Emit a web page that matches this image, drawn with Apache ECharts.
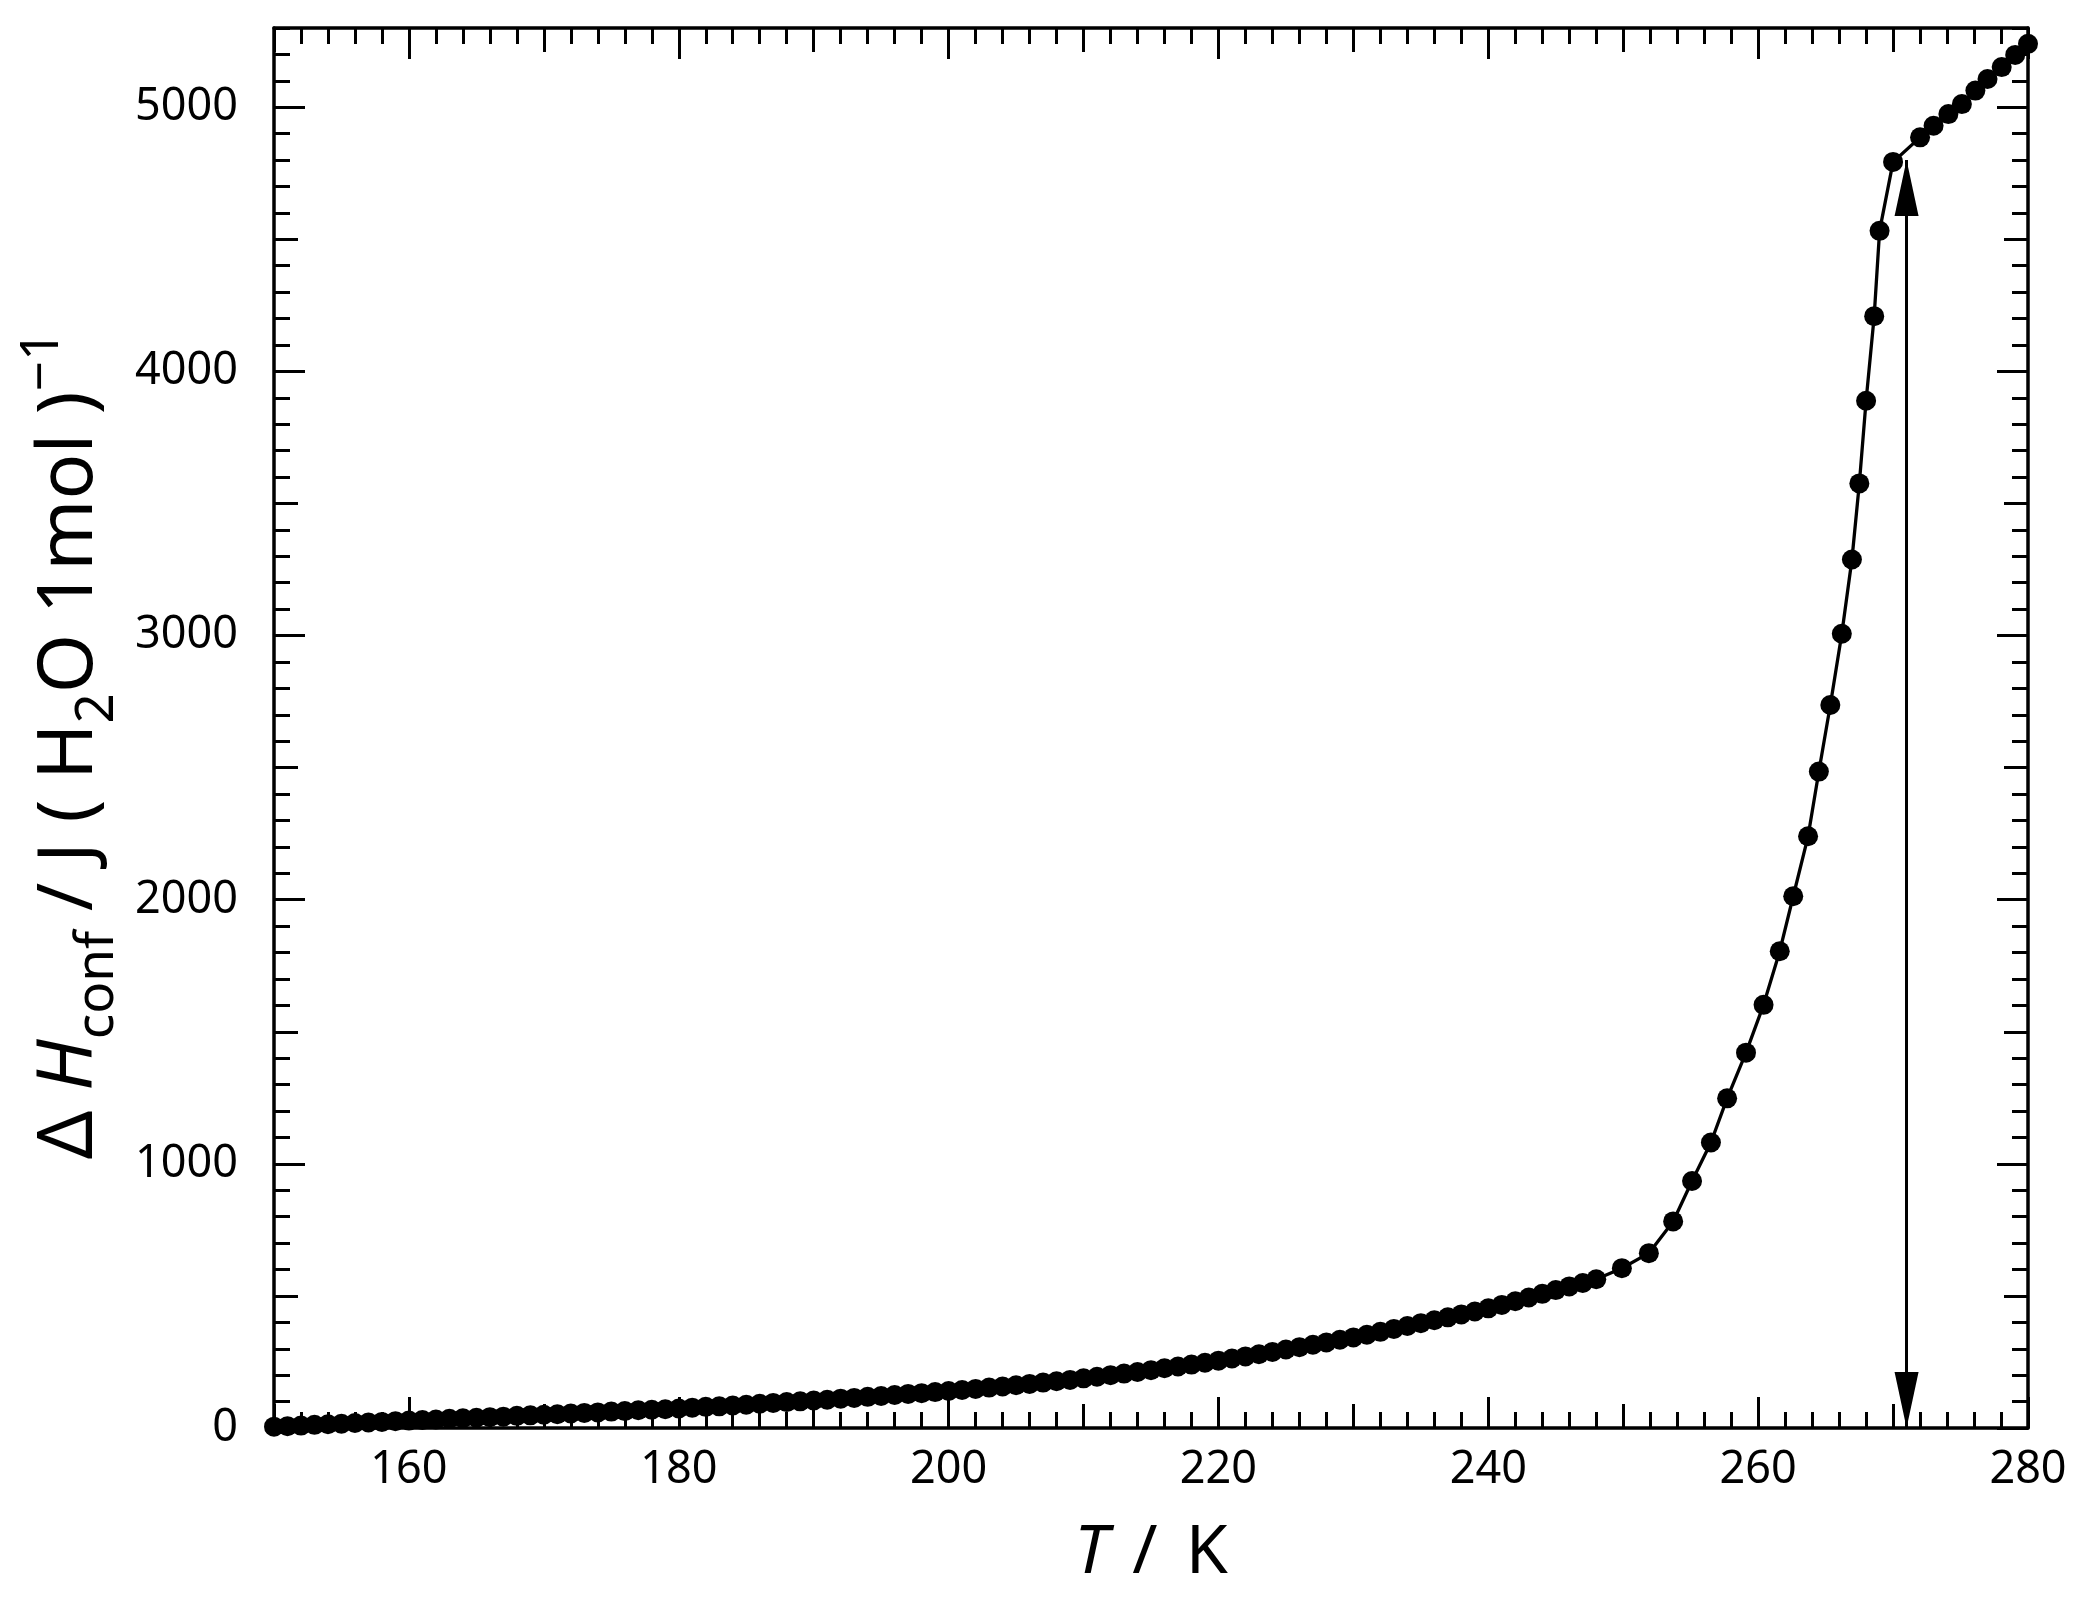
<!DOCTYPE html>
<html>
<head>
<meta charset="utf-8">
<title>dH conf vs T</title>
<script src="https://cdn.jsdelivr.net/npm/echarts@6.0.0/dist/echarts.min.js"></script>
<style>
  html, body { margin: 0; padding: 0; background: #fff; }
  #myChart { width: 2097px; height: 1601px; }
</style>
</head>
<body>
<div id="myChart"></div>
<script>
  // T / K
  var temps = [
    150, 151, 152, 153, 154, 155, 156, 157, 158, 159,
    160, 161, 162, 163, 164, 165, 166, 167, 168, 169,
    170, 171, 172, 173, 174, 175, 176, 177, 178, 179,
    180, 181, 182, 183, 184, 185, 186, 187, 188, 189,
    190, 191, 192, 193, 194, 195, 196, 197, 198, 199,
    200, 201, 202, 203, 204, 205, 206, 207, 208, 209,
    210, 211, 212, 213, 214, 215, 216, 217, 218, 219,
    220, 221, 222, 223, 224, 225, 226, 227, 228, 229,
    230, 231, 232, 233, 234, 235, 236, 237, 238, 239,
    240, 241, 242, 243, 244, 245, 246, 247, 248,
    249.9, 251.9, 253.7, 255.1, 256.5, 257.7, 259.1, 260.4, 261.6, 262.6,
    263.7, 264.5, 265.35, 266.2, 266.95, 267.5, 268.0, 268.6, 269.0, 270.0,
    272.0, 273.0, 274.1, 275.1, 276.1, 277.0, 278.05, 279.05, 280.0
  ]
  // dH_conf / J (H2O 1mol)^-1
  var enthalpy = [
    5, 7, 9, 12, 14, 16, 19, 21, 23, 26,
    28, 30, 32, 35, 37, 39, 41, 43, 46, 48,
    50, 52, 55, 57, 59, 62, 64, 67, 69, 71,
    74, 77, 80, 82, 85, 88, 92, 95, 98, 101,
    104, 107, 111, 114, 118, 121, 125, 129, 132, 136,
    140, 144, 148, 153, 157, 162, 167, 172, 177, 182,
    188, 194, 200, 206, 212, 219, 226, 233, 240, 247,
    255, 263, 271, 279, 288, 297, 306, 315, 324, 334,
    343, 353, 364, 375, 386, 397, 408, 419, 430, 441,
    453, 466, 480, 494, 508, 522, 536, 549, 563,
    605, 662, 782, 935, 1081, 1248, 1421, 1602, 1805, 2013,
    2240, 2485, 2737, 3007, 3288, 3576, 3889, 4209, 4532, 4793,
    4886, 4930, 4974, 5012, 5063, 5107, 5152, 5198, 5240
  ]
  // double arrow at the transition
  var arrowT = 271
  var arrowRange = [0, 4800]

  var xRange = [150, 280]
  var yRange = [0, 5300]
  var xLabelValues = [160, 180, 200, 220, 240, 260, 280]
  var yLabelValues = [0, 1000, 2000, 3000, 4000, 5000]

  function steps (from, to, step) {
    var out = []
    for (var v = from; v <= to + 1e-9; v += step) {
      out.push(Math.round(v * 1000) / 1000)
    }
    return out
  }

  var xMinor = steps(150, 280, 2)
  var xMedium = steps(150, 280, 10)
  var yMinor = steps(0, 5300, 100)
  var yMedium = steps(0, 5300, 500)

  var FONT = '"Noto Sans", "DejaVu Sans", sans-serif'
  var AXIS_W = 3.5
  var TICK_W = 3

  function makeAxis (dim, position, ticks, len, withLabel, withLine) {
    var range = dim === 'x' ? xRange : yRange
    return {
      type: 'value',
      position: position,
      min: range[0],
      max: range[1],
      axisLine: { show: withLine, onZero: false, lineStyle: { color: '#000', width: AXIS_W } },
      axisTick: {
        show: true,
        inside: true,
        length: len,
        customValues: ticks,
        lineStyle: { color: '#000', width: TICK_W }
      },
      minorTick: { show: false },
      splitLine: { show: false },
      axisLabel: {
        show: withLabel,
        customValues: dim === 'x' ? xLabelValues : yLabelValues,
        formatter: function (v) { return String(v) },
        color: '#000',
        fontFamily: FONT,
        fontSize: 45,
        margin: dim === 'x' ? 20 : 36
      }
    }
  }

  var xAxes = [
    makeAxis('x', 'bottom', xLabelValues, 31, true, true),
    makeAxis('x', 'bottom', xMedium, 24, false, false),
    makeAxis('x', 'bottom', xMinor, 16, false, false),
    makeAxis('x', 'top', xLabelValues, 31, false, true),
    makeAxis('x', 'top', xMedium, 24, false, false),
    makeAxis('x', 'top', xMinor, 16, false, false)
  ]
  var yAxes = [
    makeAxis('y', 'left', yLabelValues, 31, true, true),
    makeAxis('y', 'left', yMedium, 24, false, false),
    makeAxis('y', 'left', yMinor, 16, false, false),
    makeAxis('y', 'right', yLabelValues, 31, false, true),
    makeAxis('y', 'right', yMedium, 24, false, false),
    makeAxis('y', 'right', yMinor, 16, false, false)
  ]

  xAxes[0].name = '{i|T}{sl|/}{n|K}'
  xAxes[0].nameLocation = 'middle'
  xAxes[0].nameGap = 86
  xAxes[0].nameTextStyle = {
    rich: {
      n: { fontFamily: FONT, fontSize: 68, color: '#000', lineHeight: 80 },
      sl: { fontFamily: FONT, fontSize: 68, color: '#000', lineHeight: 80, padding: [0, 28, 0, 24] },
      i: { fontFamily: FONT, fontSize: 68, fontStyle: 'italic', color: '#000', lineHeight: 80 }
    }
  }

  yAxes[0].name = '{n|Δ }{i|H}{sub|conf}{n| / J ( H}{sub|2}{n|O 1mol )}{sup|−1}'
  yAxes[0].nameLocation = 'middle'
  yAxes[0].nameRotate = 90
  yAxes[0].nameGap = 150
  yAxes[0].nameTextStyle = {
    rich: {
      n: { fontFamily: FONT, fontSize: 76, color: '#000', lineHeight: 108 },
      i: { fontFamily: FONT, fontSize: 76, fontStyle: 'italic', color: '#000', lineHeight: 108 },
      sub: { fontFamily: FONT, fontSize: 53, color: '#000', lineHeight: 48, verticalAlign: 'bottom' },
      sup: { fontFamily: FONT, fontSize: 53, color: '#000', lineHeight: 50, verticalAlign: 'top', padding: [0, 34, 0, 0] }
    }
  }

  var points = temps.map(function (t, i) { return [t, enthalpy[i]] })

  var arrowHead = { symbolSize: [24, 56], symbolOffset: [0, 28] }

  var option = {
    animation: false,
    backgroundColor: '#fff',
    grid: { left: 274, top: 28, width: 1754, height: 1400, containLabel: false, outerBoundsMode: 'none' },
    xAxis: xAxes,
    yAxis: yAxes,
    series: [
      {
        type: 'line',
        xAxisIndex: 0,
        yAxisIndex: 0,
        data: points,
        symbol: 'circle',
        symbolSize: 20,
        showAllSymbol: true,
        clip: false,
        itemStyle: { color: '#000' },
        lineStyle: { color: '#000', width: 3.3 },
        emphasis: { disabled: true },
        markLine: {
          silent: true,
          symbol: ['triangle', 'triangle'],
          itemStyle: { color: '#000' },
          lineStyle: { color: '#000', width: 3, type: 'solid' },
          label: { show: false },
          emphasis: { disabled: true },
          data: [
            [
              Object.assign({ coord: [arrowT, arrowRange[0]] }, arrowHead),
              Object.assign({ coord: [arrowT, arrowRange[1]] }, arrowHead)
            ]
          ]
        }
      }
    ]
  }

  var myChart = echarts.init(document.getElementById('myChart'))
  myChart.setOption(option)
</script>
</body>
</html>
